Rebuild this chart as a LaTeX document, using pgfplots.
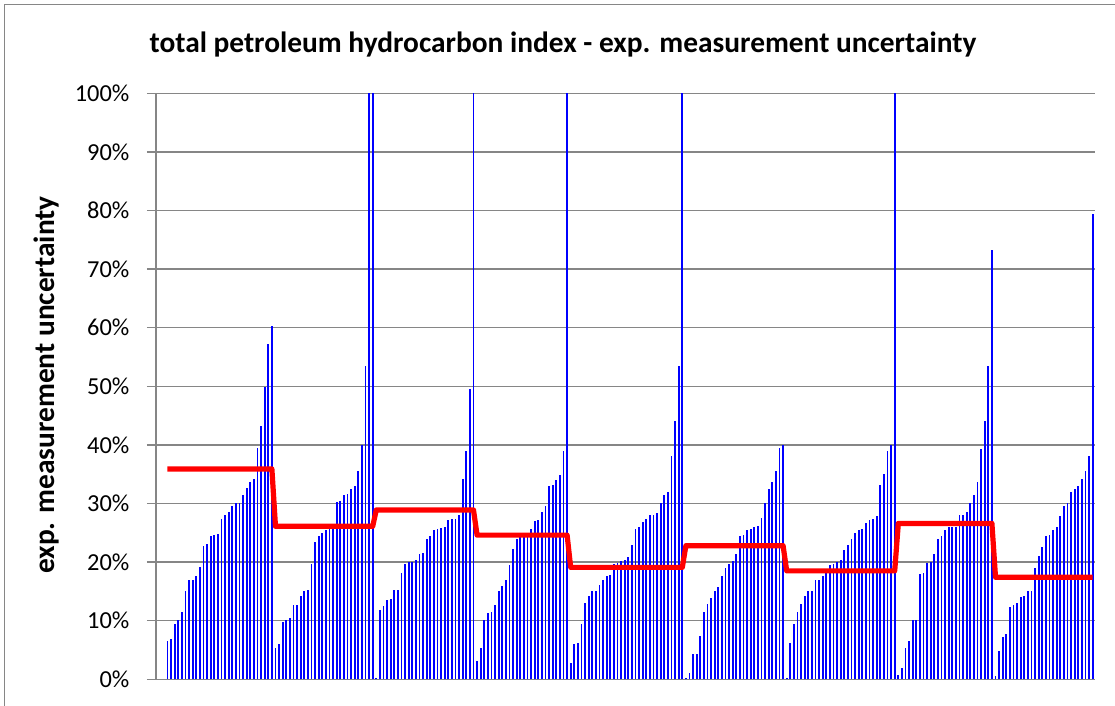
\documentclass[border=0pt]{standalone}
\usepackage{pgfplots}
\pgfplotsset{compat=1.18}
\usepackage{pgfplotstable}
\usepackage{fontspec}
\setmainfont{Carlito}
\definecolor{gridgray}{RGB}{134,134,134}
\definecolor{barblue}{RGB}{0,0,255}
\definecolor{medred}{RGB}{255,0,0}

% columns: bar value (%), group reference value (%)
\pgfplotstableread{
y m
6.5 35.9
6.8 35.9
9.4 35.9
10.1 35.9
11.5 35.9
15.0 35.9
16.9 35.9
17.0 35.9
17.7 35.9
19.1 35.9
22.7 35.9
23.1 35.9
24.5 35.9
24.7 35.9
24.8 35.9
27.3 35.9
28.0 35.9
28.6 35.9
29.5 35.9
30.0 35.9
30.0 35.9
31.4 35.9
32.7 35.9
33.6 35.9
34.2 35.9
39.5 35.9
43.3 35.9
49.9 35.9
57.3 35.9
60.3 35.9
5.3 26.1
6.1 26.1
9.7 26.1
10.1 26.1
10.5 26.1
12.6 26.1
12.7 26.1
14.2 26.1
15.1 26.1
15.2 26.1
19.6 26.1
23.5 26.1
24.5 26.1
24.9 26.1
25.4 26.1
25.6 26.1
25.7 26.1
30.3 26.1
30.5 26.1
31.5 26.1
31.6 26.1
32.4 26.1
33.0 26.1
35.6 26.1
39.9 26.1
53.5 26.1
100 26.1
100 26.1
0.3 28.9
11.8 28.9
12.5 28.9
13.6 28.9
13.75 28.9
15.2 28.9
15.2 28.9
18.2 28.9
19.6 28.9
20.1 28.9
20.1 28.9
20.3 28.9
21.3 28.9
21.5 28.9
24.0 28.9
24.5 28.9
25.4 28.9
25.6 28.9
25.8 28.9
26.0 28.9
27.1 28.9
27.3 28.9
27.3 28.9
28.0 28.9
34.1 28.9
39.0 28.9
49.5 28.9
100 28.9
3.1 24.6
5.4 24.6
10.1 24.6
11.25 24.6
11.5 24.6
12.6 24.6
15.0 24.6
15.9 24.6
16.9 24.6
19.5 24.6
22.2 24.6
23.9 24.6
24.3 24.6
24.3 24.6
24.3 24.6
25.7 24.6
27.0 24.6
27.2 24.6
28.6 24.6
29.5 24.6
33.0 24.6
33.1 24.6
34.0 24.6
34.9 24.6
38.9 24.6
100 24.6
2.7 19.1
6.0 19.1
6.25 19.1
9.4 19.1
13.0 19.1
14.2 19.1
15.1 19.1
15.1 19.1
16.1 19.1
17.0 19.1
17.7 19.1
17.8 19.1
19.7 19.1
19.9 19.1
20.2 19.1
20.3 19.1
20.9 19.1
23.0 19.1
25.6 19.1
26.0 19.1
26.8 19.1
27.4 19.1
28.0 19.1
28.0 19.1
28.4 19.1
30.0 19.1
31.5 19.1
32.0 19.1
38.1 19.1
44.0 19.1
53.5 19.1
100 19.1
0.3 22.8
1.1 22.8
4.3 22.8
4.3 22.8
7.4 22.8
11.5 22.8
12.8 22.8
13.9 22.8
15.1 22.8
15.8 22.8
17.6 22.8
19.0 22.8
19.6 22.8
20.2 22.8
21.3 22.8
24.5 22.8
24.7 22.8
25.4 22.8
25.6 22.8
26.0 22.8
26.1 22.8
27.6 22.8
30.0 22.8
32.5 22.8
33.6 22.8
35.5 22.8
39.4 22.8
39.9 22.8
0.3 18.5
6.25 18.5
9.5 18.5
11.5 18.5
12.8 18.5
14.2 18.5
15.0 18.5
15.1 18.5
16.9 18.5
17.0 18.5
17.6 18.5
18.2 18.5
19.5 18.5
19.6 18.5
20.0 18.5
20.3 18.5
22.0 18.5
23.0 18.5
24.0 18.5
25.0 18.5
25.4 18.5
25.7 18.5
26.7 18.5
27.1 18.5
27.3 18.5
27.8 18.5
33.1 18.5
35.1 18.5
39.0 18.5
39.9 18.5
100 18.5
0.7 26.6
1.9 26.6
5.4 26.6
6.6 26.6
10.1 26.6
10.1 26.6
17.9 26.6
18.1 26.6
19.9 26.6
20.1 26.6
21.3 26.6
24.0 26.6
24.5 26.6
25.4 26.6
26.0 26.6
26.0 26.6
26.0 26.6
28.0 26.6
28.0 26.6
28.6 26.6
30.0 26.6
31.5 26.6
33.6 26.6
39.3 26.6
44.0 26.6
53.4 26.6
73.3 26.6
0.6 17.4
4.8 17.4
7.3 17.4
7.8 17.4
12.4 17.4
12.6 17.4
13.1 17.4
14.1 17.4
14.2 17.4
15.0 17.4
15.0 17.4
19.0 17.4
21.1 17.4
22.6 17.4
24.4 17.4
24.7 17.4
25.5 17.4
26.0 17.4
27.8 17.4
29.5 17.4
30.1 17.4
32.0 17.4
32.4 17.4
33.0 17.4
34.1 17.4
35.6 17.4
38.1 17.4
79.4 17.4
}\datatable

\begin{document}
\begin{tikzpicture}
% fixed page size: 1115 x 706 px at 0.5pt per px
\useasboundingbox (0,0) rectangle (557.5pt,353pt);
% chart border (left and top visible)
\draw[gridgray, line width=0.6pt] (2.35pt,-1pt) -- (2.35pt,350.65pt) -- (560pt,350.65pt);

\begin{axis}[
  at={(78pt,13.35pt)}, anchor=south west,
  scale only axis,
  width=469.35pt, height=293pt,
  xmin=-3.19, xmax=257.55,
  ymin=0, ymax=100,
  axis x line*=bottom, axis y line*=left,
  axis line style={draw=gridgray, line width=0.75pt},
  xtick=\empty,
  ytick={0,10,...,100},
  yticklabels={0\%,10\%,20\%,30\%,40\%,50\%,60\%,70\%,80\%,90\%,100\%},
  tick align=outside,
  major tick length=4.6pt,
  tick style={draw=gridgray, line width=0.75pt},
  ymajorgrids,
  grid style={draw=gridgray, line width=0.75pt},
  yticklabel style={font=\fontsize{12.2}{14}\selectfont, anchor=east, inner sep=0pt, xshift=-8.5pt},
  clip=true,
]
\addplot[ycomb, draw=barblue, line width=0.85pt, mark=none]
  table[x expr=\coordindex, y=y] {\datatable};
\addplot[draw=medred, line width=2.6pt, mark=none, line join=round]
  table[x expr=\coordindex, y=m] {\datatable};
\end{axis}

\node[font=\bfseries\fontsize{14.7}{17}\selectfont] at (281.5pt,330.5pt)
  {total petroleum hydrocarbon index - exp. measurement uncertainty};
\node[font=\bfseries\fontsize{14.7}{17}\selectfont, rotate=90] at (23pt,160.5pt)
  {exp. measurement uncertainty};
\end{tikzpicture}
\end{document}
